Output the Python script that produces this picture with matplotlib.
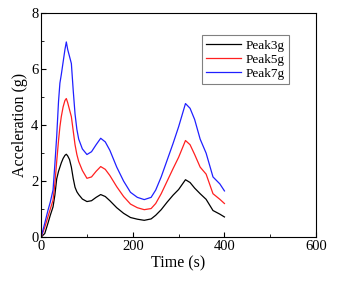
import numpy as np
import matplotlib.pyplot as plt
from matplotlib.ticker import MultipleLocator

plt.rcParams['font.family'] = ['Liberation Serif', 'DejaVu Serif']

# time points (s) and acceleration (g)
t = [0, 8, 15, 20, 26, 30, 34, 38, 41, 44, 48, 52, 55, 58, 62, 66, 70, 74, 78, 82,
     90, 100, 110, 120, 130, 140, 150, 165, 180, 195, 210, 225, 240, 250, 262, 275,
     288, 300, 315, 325, 335, 347, 360, 375, 390, 400]

peak3 = [0, 0.13, 0.5, 0.78, 1.08, 1.5, 2.08, 2.35, 2.5, 2.65, 2.81, 2.92, 2.96, 2.9,
         2.77, 2.5, 2.1, 1.78, 1.62, 1.52, 1.36, 1.27, 1.3, 1.42, 1.52, 1.45, 1.3,
         1.05, 0.85, 0.7, 0.64, 0.6, 0.65, 0.78, 0.98, 1.25, 1.5, 1.7, 2.05, 1.95,
         1.75, 1.55, 1.35, 0.95, 0.82, 0.72]

peak5 = [0, 0.35, 0.73, 1.0, 1.32, 1.9, 2.7, 3.45, 3.94, 4.3, 4.65, 4.88, 4.95, 4.8,
         4.55, 4.3, 3.8, 3.3, 2.95, 2.7, 2.38, 2.1, 2.15, 2.35, 2.52, 2.42, 2.2, 1.8,
         1.45, 1.18, 1.05, 0.98, 1.02, 1.2, 1.55, 2.0, 2.45, 2.85, 3.45, 3.3, 2.95,
         2.5, 2.25, 1.55, 1.35, 1.2]

peak7 = [0, 0.5, 0.96, 1.25, 1.68, 2.6, 3.6, 4.85, 5.5, 5.8, 6.25, 6.7, 6.97, 6.7,
         6.45, 6.2, 5.25, 4.4, 3.85, 3.5, 3.15, 2.95, 3.05, 3.3, 3.53, 3.4, 3.1, 2.5,
         2.0, 1.6, 1.42, 1.34, 1.42, 1.68, 2.15, 2.75, 3.35, 3.94, 4.77, 4.6, 4.2,
         3.5, 3.0, 2.15, 1.9, 1.65]

fig = plt.figure(figsize=(3.37, 2.85), dpi=100)
ax = fig.add_axes([0.122, 0.168, 0.816, 0.786])

ax.plot(t, peak3, color='black', lw=0.9, label='Peak3g')
ax.plot(t, peak5, color='#ff2020', lw=0.9, label='Peak5g')
ax.plot(t, peak7, color='#2020ff', lw=0.9, label='Peak7g')

ax.set_xlim(0, 600)
ax.set_ylim(0, 8)
ax.xaxis.set_major_locator(MultipleLocator(200))
ax.xaxis.set_minor_locator(MultipleLocator(100))
ax.yaxis.set_major_locator(MultipleLocator(2))
ax.yaxis.set_minor_locator(MultipleLocator(1))
ax.tick_params(which='both', direction='in', labelsize=10.5, pad=2)
ax.tick_params(which='major', length=3.5)
ax.tick_params(which='minor', length=2)
ax.set_xlabel('Time (s)', fontsize=11.5, labelpad=2)
ax.set_ylabel('Acceleration (g)', fontsize=11.5, labelpad=2)

leg = ax.legend(loc='upper right', bbox_to_anchor=(0.925, 0.93), fontsize=9.5,
                fancybox=False, edgecolor='#808080', framealpha=1,
                handlelength=2.6, borderpad=0.3, labelspacing=0.15, handletextpad=0.4)
leg.get_frame().set_linewidth(0.8)

fig.savefig('out.png', dpi=100)
